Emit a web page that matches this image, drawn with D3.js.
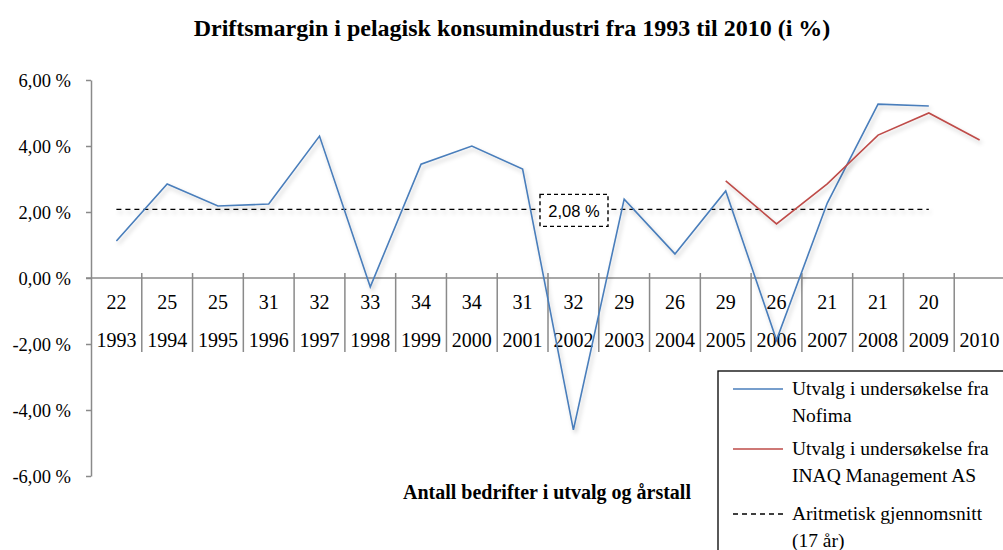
<!DOCTYPE html>
<html>
<head>
<meta charset="utf-8">
<script src="https://cdn.jsdelivr.net/npm/d3@7"></script>
<style>
  body { margin: 0; background: #fff; }
  svg { display: block; }
  text { font-family: "Liberation Serif", "Times New Roman", serif; fill: #000; }
</style>
</head>
<body>
<div id="chart"></div>
<script>

// years and number of companies in the sample
const years = ["1993","1994","1995","1996","1997","1998","1999","2000","2001","2002","2003","2004","2005","2006","2007","2008","2009","2010"]
const companies = ["22","25","25","31","32","33","34","34","31","32","29","26","29","26","21","21","20",""]

// Nofima sample 1993 - 2009
const nofimaYears = years.slice(0, 17)
const nofimaValues = [1.12, 2.85, 2.18, 2.24, 4.30, -0.27, 3.45, 4.00, 3.30, -4.60, 2.39, 0.73, 2.64, -1.88, 2.27, 5.27, 5.21]

// INAQ sample 2005 - 2010
const inaqYears = ["2005","2006","2007","2008","2009","2010"]
const inaqValues = [2.94, 1.64, 2.85, 4.33, 5.00, 4.18]

const average = 2.08
const yTicks = [-6, -4, -2, 0, 2, 4, 6]

const width = 1003
const height = 550

const svg = d3.select("#chart").append("svg")
    .attr("width", width)
    .attr("height", height)

// soft shadow under the lines (user space so flat lines get it too)
const defs = svg.append("defs")
defs.append("filter")
    .attr("id", "shadow")
    .attr("filterUnits", "userSpaceOnUse")
    .attr("x", 0).attr("y", 0).attr("width", width).attr("height", height)
  .append("feDropShadow")
    .attr("dx", 2).attr("dy", 3)
    .attr("stdDeviation", 2)
    .attr("flood-color", "#000")
    .attr("flood-opacity", 0.22)

const xScale = d3.scaleBand()
    .domain(years)
    .range([91, 1005])

const yScale = d3.scaleLinear()
    .domain([-6, 6])
    .range([476, 80])

const axisColor = "#8a8a8a"
const fmt = v => d3.format(".2f")(v).replace(".", ",").replace("\u2212", "-") + " %"

// title
svg.append("text")
    .attr("x", 512)
    .attr("y", 36)
    .attr("text-anchor", "middle")
    .style("font-size", "24px")
    .style("font-weight", "bold")
    .text("Driftsmargin i pelagisk konsumindustri fra 1993 til 2010 (i %)")

// y axis
const yAxis = svg.append("g")
    .attr("transform", "translate(91,0)")
    .call(d3.axisLeft(yScale).tickValues(yTicks).tickSize(5).tickSizeOuter(0).tickFormat(fmt))
yAxis.attr("font-family", null).attr("font-size", null)
yAxis.select(".domain").attr("stroke", axisColor).attr("stroke-width", 1.5)
yAxis.selectAll(".tick line").attr("stroke", axisColor).attr("stroke-width", 1.5)
yAxis.selectAll(".tick text")
    .attr("x", -20)
    .attr("dy", "0.35em")
    .attr("font-family", "Liberation Serif")
    .attr("font-size", 18.5)
    .attr("fill", "#000")

// category axis along zero
const y0 = yScale(0)
svg.append("line")
    .attr("x1", 86).attr("x2", width)
    .attr("y1", y0).attr("y2", y0)
    .attr("stroke", axisColor)
    .attr("stroke-width", 1.5)

svg.selectAll(".sep")
    .data(years)
    .join("line")
    .attr("class", "sep")
    .attr("x1", d => xScale(d) + xScale.bandwidth())
    .attr("x2", d => xScale(d) + xScale.bandwidth())
    .attr("y1", y0 - 5)
    .attr("y2", y0 + 74)
    .attr("stroke", axisColor)
    .attr("stroke-width", 1.5)

svg.selectAll(".count")
    .data(years)
    .join("text")
    .attr("class", "count")
    .attr("x", d => xScale(d) + xScale.bandwidth() / 2)
    .attr("y", y0 + 31)
    .attr("text-anchor", "middle")
    .style("font-size", "20px")
    .text((d, i) => companies[i])

svg.selectAll(".year")
    .data(years)
    .join("text")
    .attr("class", "year")
    .attr("x", d => xScale(d) + xScale.bandwidth() / 2)
    .attr("y", y0 + 69)
    .attr("text-anchor", "middle")
    .style("font-size", "20px")
    .text(d => d)

// axis title
svg.append("text")
    .attr("x", 547)
    .attr("y", 499)
    .attr("text-anchor", "middle")
    .style("font-size", "20px")
    .style("font-weight", "bold")
    .text("Antall bedrifter i utvalg og årstall")

const xc = d => xScale(d) + xScale.bandwidth() / 2

// average line
svg.append("line")
    .attr("x1", xc(nofimaYears[0]))
    .attr("x2", xc(nofimaYears[nofimaYears.length - 1]))
    .attr("y1", yScale(average))
    .attr("y2", yScale(average))
    .attr("stroke", "#000")
    .attr("stroke-width", 1.4)
    .attr("stroke-dasharray", "5,4")
    .attr("filter", "url(#shadow)")

// lines
const line = d3.line()
    .x(d => xc(d[0]))
    .y(d => yScale(d[1]))

svg.append("path")
    .datum(d3.zip(nofimaYears, nofimaValues))
    .attr("d", line)
    .attr("fill", "none")
    .attr("stroke", "#4a7ebb")
    .attr("stroke-width", 1.6)
    .attr("filter", "url(#shadow)")

svg.append("path")
    .datum(d3.zip(inaqYears, inaqValues))
    .attr("d", line)
    .attr("fill", "none")
    .attr("stroke", "#be4b48")
    .attr("stroke-width", 1.6)
    .attr("filter", "url(#shadow)")

// average label box
const labelX = 574
const labelY = yScale(average) + 2
svg.append("rect")
    .attr("x", labelX - 34)
    .attr("y", labelY - 17)
    .attr("width", 68)
    .attr("height", 32)
    .attr("fill", "#fff")
    .attr("stroke", "#000")
    .attr("stroke-width", 1.4)
    .attr("stroke-dasharray", "4,3")
svg.append("text")
    .attr("x", labelX)
    .attr("y", labelY + 6)
    .attr("text-anchor", "middle")
    .style("font-family", "Liberation Sans, Arial, sans-serif")
    .style("font-size", "16.5px")
    .text(fmt(average))

// legend
svg.append("rect")
    .attr("x", 718)
    .attr("y", 371)
    .attr("width", 300)
    .attr("height", 200)
    .attr("fill", "#fff")
    .attr("stroke", "#000")
    .attr("stroke-width", 1.3)

const legendItems = [
    {lines: ["Utvalg i undersøkelse fra", "Nofima"], color: "#4a7ebb", dash: null, y: 389},
    {lines: ["Utvalg i undersøkelse fra", "INAQ Management AS"], color: "#be4b48", dash: null, y: 449},
    {lines: ["Aritmetisk gjennomsnitt", "(17 år)"], color: "#000", dash: "5,4", y: 514}
]

legendItems.forEach(item => {
    svg.append("line")
        .attr("x1", 733).attr("x2", 783)
        .attr("y1", item.y).attr("y2", item.y)
        .attr("stroke", item.color)
        .attr("stroke-width", 1.5)
        .attr("stroke-dasharray", item.dash)
    item.lines.forEach((t, i) => {
        svg.append("text")
            .attr("x", 792)
            .attr("y", item.y + 6 + i * 27)
            .style("font-size", "19.5px")
            .text(t)
    })
})

</script>
</body>
</html>
